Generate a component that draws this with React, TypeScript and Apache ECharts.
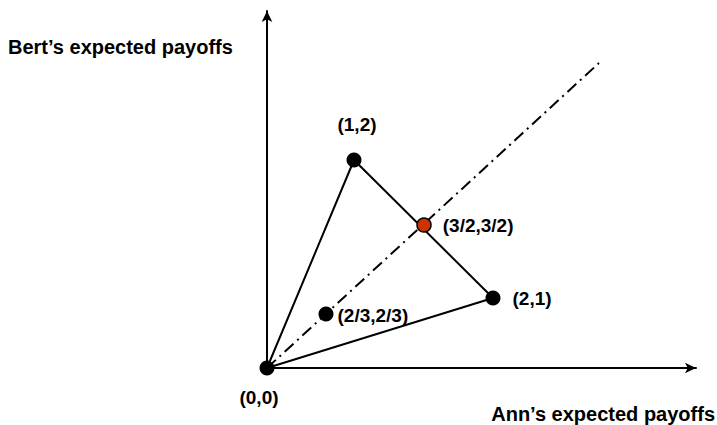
import React, { useEffect, useRef } from "react";
import * as echarts from "echarts";

// Labels of the marked points (true payoff pairs)
const pointLabels = ["(0,0)", "(1,2)", "(2,1)", "(3/2,3/2)", "(2/3,2/3)"];
// Positions of the points as drawn in the picture (the figure is a sketch, not to scale)
const pointX = [0, 0.87, 2.26, 1.57, 0.59];
const pointY = [0, 2.08, 0.7, 1.43, 0.54];
const pointColors = ["#000000", "#000000", "#000000", "#cc3300", "#000000"];
// Triangle: origin -> (1,2) -> (2,1) -> origin (indices into the arrays above)
const triangleOrder = [0, 1, 2, 0];
// Diagonal (dash-dot) line as drawn
const diagonalX = [0, 3.32];
const diagonalY = [0, 3.05];
const axisMaxX = 4.29;
const axisMaxY = 3.57;
const xAxisTitle = "Ann\u2019s expected payoffs";
const yAxisTitle = "Bert\u2019s expected payoffs";

const FONT = "'Liberation Sans', Arial, sans-serif";

export default function App() {
  const ref = useRef<HTMLDivElement>(null);
  useEffect(() => {
    if (!ref.current) return;
    const chart = echarts.init(ref.current, null, { renderer: "svg" });
    const labelPos: any[] = [
      { position: "bottom", distance: 12, offset: [-8, 0] },
      { position: "top", distance: 19, offset: [3, 0] },
      { position: "right", distance: 12, offset: [0, 0] },
      { position: "right", distance: 11, offset: [0, 0] },
      { position: "right", distance: 4, offset: [0, 1] },
    ];
    const scatterData = pointX.map((x, i) => ({
      value: [x, pointY[i]],
      symbolSize: i === 3 ? 14 : 15,
      itemStyle: {
        color: pointColors[i],
        opacity: 1,
        borderColor: "#000",
        borderWidth: i === 3 ? 1.5 : 0,
      },
      label: {
        show: true,
        formatter: pointLabels[i],
        color: "#000",
        fontFamily: FONT,
        fontWeight: "bold",
        fontSize: 19,
        ...labelPos[i],
      },
    }));
    chart.setOption({
      animation: false,
      grid: { left: 267, right: 21, top: 11, bottom: 57 },
      xAxis: {
        type: "value",
        min: 0,
        max: axisMaxX,
        axisLine: {
          show: true,
          symbol: ["none", "arrow"],
          symbolSize: [8, 11],
          lineStyle: { color: "#000", width: 2 },
        },
        axisTick: { show: false },
        axisLabel: { show: false },
        splitLine: { show: false },
      },
      yAxis: {
        type: "value",
        min: 0,
        max: axisMaxY,
        axisLine: {
          show: true,
          symbol: ["none", "arrow"],
          symbolSize: [8, 11],
          lineStyle: { color: "#000", width: 2 },
        },
        axisTick: { show: false },
        axisLabel: { show: false },
        splitLine: { show: false },
      },
      series: [
        {
          type: "line",
          data: triangleOrder.map((i) => [pointX[i], pointY[i]]),
          symbol: "none",
          lineStyle: { color: "#000", width: 2 },
          z: 2,
        },
        {
          type: "line",
          data: diagonalX.map((x, i) => [x, diagonalY[i]]),
          symbol: "none",
          lineStyle: { color: "#000", width: 2, type: [12, 5, 2, 5] },
          z: 2,
        },
        {
          type: "scatter",
          data: scatterData,
          itemStyle: { opacity: 1 },
          z: 5,
        },
      ],
      graphic: [
        {
          type: "text",
          left: 8,
          top: 37,
          style: {
            text: yAxisTitle,
            fill: "#000",
            font: `bold 20px ${FONT}`,
          },
        },
        {
          type: "text",
          right: 2,
          top: 404,
          style: {
            text: xAxisTitle,
            fill: "#000",
            font: `bold 20px ${FONT}`,
          },
        },
      ],
    });
    return () => chart.dispose();
  }, []);
  return (
    <div
      ref={ref}
      style={{ position: "fixed", left: 0, top: 0, width: 717, height: 425, background: "#fff" }}
    />
  );
}
